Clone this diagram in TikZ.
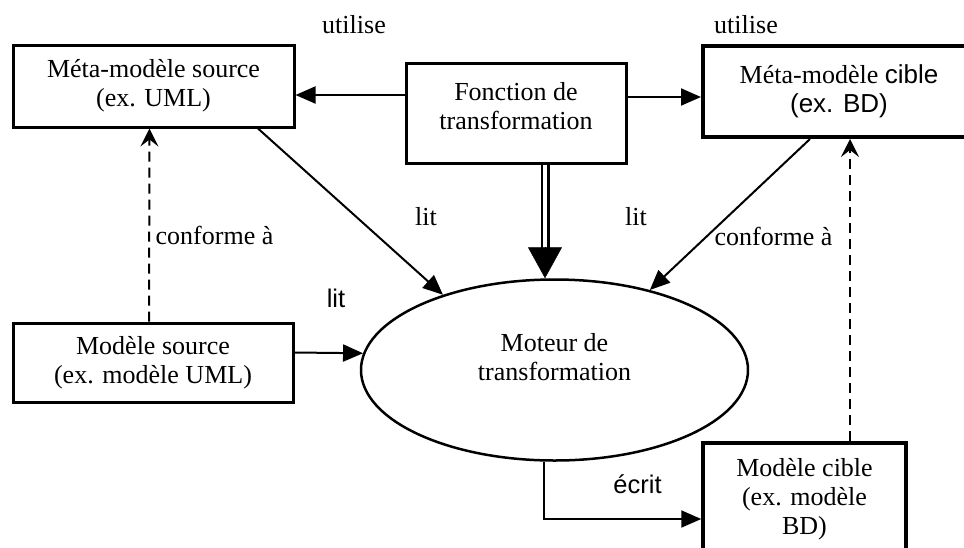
\documentclass[tikz,border=0pt]{standalone}
\usepackage{fontspec}
\setmainfont{Liberation Serif}
\setsansfont{Liberation Sans}
\usetikzlibrary{arrows.meta,shapes.geometric,calc}
\tikzset{
  box/.style={draw, line width=3pt, align=center, inner sep=0pt, font=\fontsize{26}{29}\selectfont},
  txt/.style={align=center, inner sep=0pt, font=\fontsize{26}{29}\selectfont},
  lbl/.style={anchor=base, inner sep=0pt, font=\fontsize{26}{29}\selectfont},
  slbl/.style={anchor=base, inner sep=0pt, font=\fontsize{25.5}{29}\selectfont\sffamily},
  arr/.style={line width=2pt, -{Triangle[length=20pt,width=17pt]}},
  darr/.style={line width=2pt, dash pattern=on 10pt off 6pt, -{Stealth[length=18pt,width=18pt,inset=7pt]}}
}
\begin{document}
\begin{tikzpicture}[x=1pt,y=-1pt]
\useasboundingbox (0,0) rectangle (964,547);
\clip (0,0) rectangle (964,547);
\fill[white] (0,0) rectangle (964,547);

% boxes
\node[box, minimum width=281pt, minimum height=82pt] (ms) at (153.5,86) {Méta-modèle source\\(ex. UML)};
\node[box, minimum width=220pt, minimum height=100pt] (fn) at (516,113) {};
\node[txt] (fnt) at (516,106) {Fonction de\\transformation};
\node[box, line width=4pt, minimum width=272pt, minimum height=91pt] (mc) at (839,91.5) {Méta-modèle \textsf{cible}\\\textsf{(ex. BD)}};
\node[box, minimum width=280pt, minimum height=79pt] (msrc) at (153,362.5) {Modèle source\\(ex. modèle UML)};
\node[box, line width=3.5pt, minimum width=203pt, minimum height=112pt] (mcib) at (804.5,499) {Modèle cible\\(ex. modèle\\BD)};
\node[draw, ellipse, line width=2.5pt, minimum width=387pt, minimum height=181pt, inner sep=0pt] (eng) at (554.5,370) {};
\node[txt] (engt) at (554.5,357) {Moteur de\\transformation};

% connectors
\draw[arr] ([yshift=18pt]fn.west) -- ([yshift=18pt]fn.west -| ms.east);
\draw[arr] ([yshift=16pt]fn.east) -- ([yshift=16pt]fn.east -| mc.west);
\draw[line width=2.5pt, double=white, double distance=4pt, shorten >=28pt] ([xshift=29pt]fn.south) -- ([xshift=-9.5pt]eng.north);
\draw[line width=0.5pt, -{Triangle[length=31pt,width=34pt]}] ([xshift=-9.5pt,yshift=31pt]eng.north) -- ([xshift=-9.5pt]eng.north);
\draw[arr] ([xshift=104.5pt]ms.south) -- (eng.146);
\draw[arr] ([xshift=-29pt]mc.south) -- (eng.40);
\draw[arr] ([yshift=10pt]msrc.east) -- (eng.175);
\draw[darr] ([xshift=-4pt]msrc.north) -- ([xshift=-4pt]ms.south);
\draw[darr] ([xshift=45.5pt]mcib.north) -- ([xshift=45.5pt]mcib.north |- mc.south);
\draw[arr] ([xshift=-10.5pt]eng.south) |- ([yshift=-20pt]mcib.west);

% labels
\node[lbl] (u1) at (354,33) {utilise};
\node[lbl] (u2) at (746,33) {utilise};
\node[lbl] (l1) at (426,225) {lit};
\node[lbl] (l2) at (636,225) {lit};
\node[slbl] (l3) at (336,307) {lit};
\node[lbl] (c1) at (214.5,244) {conforme à};
\node[lbl] (c2) at (773.5,245) {conforme à};
\node[slbl] (e1) at (637.5,493) {écrit};
\end{tikzpicture}
\end{document}
